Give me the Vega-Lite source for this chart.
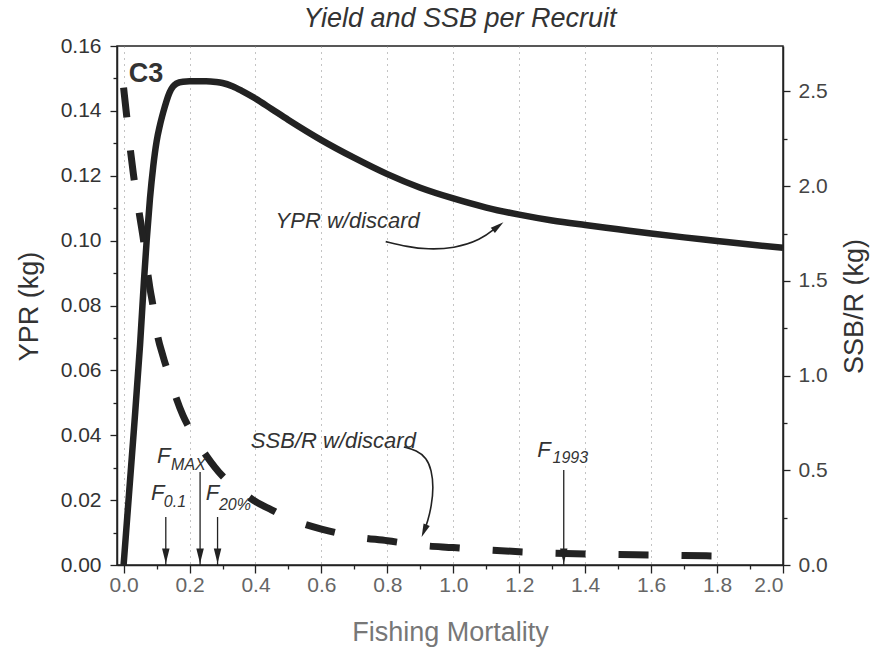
{
  "$schema": "https://vega.github.io/schema/vega-lite/v6.json",
  "width": 666,
  "height": 519,
  "autosize": "none",
  "padding": {"left": 117, "top": 46, "right": 91, "bottom": 86},
  "background": "white",
  "title": {"text": "Yield and SSB per Recruit", "fontSize": 27, "fontStyle": "italic", "fontWeight": "normal", "font": "Liberation Sans", "color": "#333", "anchor": "middle", "frame": "group", "baseline": "alphabetic", "offset": -19, "dx": 10},
  "config": {"view": {"stroke": "#222", "strokeWidth": 1.5}, "font": "Liberation Sans"},
  "datasets": {
    "ypr": [
      {"F": 0, "v": 0}, {"F": 0.03, "v": 0.04}, {"F": 0.05, "v": 0.068}, {"F": 0.062, "v": 0.088},
      {"F": 0.07, "v": 0.1}, {"F": 0.08, "v": 0.113}, {"F": 0.09, "v": 0.123}, {"F": 0.1, "v": 0.1305},
      {"F": 0.11, "v": 0.1355}, {"F": 0.12, "v": 0.1395}, {"F": 0.13, "v": 0.143}, {"F": 0.14, "v": 0.1458},
      {"F": 0.15, "v": 0.1475}, {"F": 0.16, "v": 0.1484}, {"F": 0.18, "v": 0.149}, {"F": 0.2, "v": 0.1491},
      {"F": 0.25, "v": 0.1491}, {"F": 0.28, "v": 0.1489}, {"F": 0.3, "v": 0.1486}, {"F": 0.33, "v": 0.1476},
      {"F": 0.36, "v": 0.1461}, {"F": 0.4, "v": 0.1438}, {"F": 0.45, "v": 0.1405}, {"F": 0.5, "v": 0.1372},
      {"F": 0.6, "v": 0.131}, {"F": 0.7, "v": 0.1255}, {"F": 0.8, "v": 0.1205}, {"F": 0.9, "v": 0.1163},
      {"F": 1.0, "v": 0.113}, {"F": 1.1, "v": 0.1102}, {"F": 1.2, "v": 0.108}, {"F": 1.3, "v": 0.1062},
      {"F": 1.4, "v": 0.1048}, {"F": 1.5, "v": 0.1035}, {"F": 1.6, "v": 0.1022}, {"F": 1.7, "v": 0.101},
      {"F": 1.8, "v": 0.0999}, {"F": 1.9, "v": 0.0988}, {"F": 2.0, "v": 0.0978}
    ],
    "ssb": [
      {"F": 0.0, "s": 2.52}, {"F": 0.01, "s": 2.36}, {"F": 0.02, "s": 2.2}, {"F": 0.03, "s": 2.06},
      {"F": 0.04, "s": 1.94}, {"F": 0.05, "s": 1.83}, {"F": 0.06, "s": 1.72}, {"F": 0.07, "s": 1.58},
      {"F": 0.08, "s": 1.46}, {"F": 0.09, "s": 1.36}, {"F": 0.1, "s": 1.24}, {"F": 0.12, "s": 1.1},
      {"F": 0.14, "s": 0.99}, {"F": 0.16, "s": 0.88}, {"F": 0.18, "s": 0.79}, {"F": 0.2, "s": 0.72},
      {"F": 0.25, "s": 0.58}, {"F": 0.3, "s": 0.47}, {"F": 0.35, "s": 0.4}, {"F": 0.4, "s": 0.335},
      {"F": 0.45, "s": 0.29}, {"F": 0.5, "s": 0.245}, {"F": 0.55, "s": 0.215}, {"F": 0.6, "s": 0.19},
      {"F": 0.7, "s": 0.15}, {"F": 0.8, "s": 0.128}, {"F": 0.9, "s": 0.104}, {"F": 1.0, "s": 0.092},
      {"F": 1.1, "s": 0.08}, {"F": 1.2, "s": 0.07}, {"F": 1.3, "s": 0.063}, {"F": 1.4, "s": 0.058},
      {"F": 1.5, "s": 0.055}, {"F": 1.6, "s": 0.053}, {"F": 1.7, "s": 0.05}, {"F": 1.84, "s": 0.047}
    ],
    "bigF": [
      {"F": 0.101, "v": 0.0315, "t": "F"},
      {"F": 0.083, "v": 0.02, "t": "F"},
      {"F": 0.249, "v": 0.02, "t": "F"},
      {"F": 1.255, "v": 0.0333, "t": "F"}
    ],
    "subs": [
      {"F": 0.144, "v": 0.0293, "t": "MAX"},
      {"F": 0.122, "v": 0.0179, "t": "0.1"},
      {"F": 0.289, "v": 0.017, "t": "20%"},
      {"F": 1.301, "v": 0.0314, "t": "1993"}
    ],
    "notes": [
      {"F": 0.461, "v": 0.1039, "t": "YPR w/discard"},
      {"F": 0.386, "v": 0.0361, "t": "SSB/R w/discard"}
    ],
    "panel": [{"F": 0.016, "v": 0.1489, "t": "C3"}],
    "vArrows": [
      {"F": 0.128, "v": 0.0148, "v2": 0.0},
      {"F": 0.232, "v": 0.0287, "v2": 0.0},
      {"F": 0.285, "v": 0.0148, "v2": 0.0},
      {"F": 1.335, "v": 0.0293, "v2": 0.0}
    ],
    "vHeads": [
      {"F": 0.128, "v": 0.0005}, {"F": 0.232, "v": 0.0005}, {"F": 0.285, "v": 0.0005}, {"F": 1.335, "v": 0.0005}
    ],
    "curves": [
      {"id": "a", "seq": 1, "F": 0.795, "v": 0.0997},
      {"id": "a", "seq": 2, "F": 0.861, "v": 0.0981},
      {"id": "a", "seq": 3, "F": 0.921, "v": 0.0973},
      {"id": "a", "seq": 4, "F": 1.002, "v": 0.0976},
      {"id": "a", "seq": 5, "F": 1.083, "v": 0.1002},
      {"id": "a", "seq": 6, "F": 1.13, "v": 0.104},
      {"id": "b", "seq": 1, "F": 0.85, "v": 0.0364},
      {"id": "b", "seq": 2, "F": 0.889, "v": 0.0354},
      {"id": "b", "seq": 3, "F": 0.919, "v": 0.033},
      {"id": "b", "seq": 4, "F": 0.934, "v": 0.0293},
      {"id": "b", "seq": 5, "F": 0.94, "v": 0.024},
      {"id": "b", "seq": 6, "F": 0.934, "v": 0.0182},
      {"id": "b", "seq": 7, "F": 0.922, "v": 0.0133},
      {"id": "b", "seq": 8, "F": 0.913, "v": 0.0111}
    ],
    "headA": [{"F": 1.152, "v": 0.1057}],
    "headB": [{"F": 0.904, "v": 0.0086}]
  },
  "encoding": {
    "x": {
      "field": "F", "type": "quantitative",
      "scale": {"domain": [-0.02, 2.0], "nice": false, "zero": false},
      "axis": {
        "values": [0, 0.1, 0.2, 0.3, 0.4, 0.5, 0.6, 0.7, 0.8, 0.9, 1.0, 1.1, 1.2, 1.3, 1.4, 1.5, 1.6, 1.7, 1.8, 1.9, 2.0],
        "labelExpr": "round(datum.value*10) % 2 == 0 ? format(datum.value, '.1f') : ''",
        "tickSize": {"condition": {"test": "round(datum.value*10) % 2 != 0", "value": 4}, "value": 8},
        "grid": true,
        "gridDash": [1, 5],
        "gridColor": "#888",
        "gridWidth": 1,
        "gridOpacity": {"condition": {"test": "round(datum.value*10) % 2 != 0", "value": 0}, "value": 1},
        "domainColor": "#222", "domainWidth": 1.5,
        "tickColor": "#222", "tickWidth": 1.3,
        "labelFontSize": 21, "labelColor": "#666", "labelPadding": 1, "labelFont": "Liberation Sans",
        "title": "Fishing Mortality", "titleFontSize": 27, "titleColor": "#777", "titleFontWeight": "normal",
        "titleFont": "Liberation Sans", "titleX": 333, "titleY": 75, "titleBaseline": "alphabetic"
      }
    }
  },
  "layer": [
    {
      "data": {"name": "ypr"},
      "mark": {"type": "line", "color": "#222", "strokeWidth": 6.5, "interpolate": "monotone", "strokeCap": "butt", "strokeJoin": "round"},
      "encoding": {
        "y": {
          "field": "v", "type": "quantitative",
          "scale": {"domain": [0, 0.16], "nice": false},
          "axis": {
            "values": [0, 0.01, 0.02, 0.03, 0.04, 0.05, 0.06, 0.07, 0.08, 0.09, 0.1, 0.11, 0.12, 0.13, 0.14, 0.15, 0.16],
            "labelExpr": "round(datum.value*100) % 2 == 0 ? format(datum.value, '.2f') : ''",
            "tickSize": {"condition": {"test": "round(datum.value*100) % 2 != 0", "value": 4}, "value": 7},
            "grid": false,
            "domainColor": "#222", "domainWidth": 1.5,
            "tickColor": "#222", "tickWidth": 1.3,
            "labelFontSize": 21, "labelColor": "#333", "labelPadding": 9, "labelFont": "Liberation Sans",
            "title": "YPR (kg)", "titleFontSize": 27, "titleColor": "#333", "titleFontWeight": "normal",
            "titleFont": "Liberation Sans", "titleX": -80, "titleY": 260, "titleAngle": 270, "titleBaseline": "alphabetic"
          }
        }
      }
    },
    {
      "data": {"name": "ssb"},
      "mark": {"type": "line", "color": "#222", "strokeWidth": 7, "interpolate": "monotone", "strokeDash": [30, 33], "strokeCap": "butt"},
      "encoding": {
        "y": {
          "field": "s", "type": "quantitative",
          "scale": {"domain": [0, 2.74], "nice": false},
          "axis": {
            "orient": "right",
            "values": [0, 0.25, 0.5, 0.75, 1.0, 1.25, 1.5, 1.75, 2.0, 2.25, 2.5],
            "labelExpr": "round(datum.value*4) % 2 == 0 ? format(datum.value, '.1f') : ''",
            "tickSize": {"condition": {"test": "round(datum.value*4) % 2 != 0", "value": 4}, "value": 7},
            "grid": false,
            "domainColor": "#222", "domainWidth": 1.5,
            "tickColor": "#222", "tickWidth": 1.3,
            "labelFontSize": 21, "labelColor": "#444", "labelPadding": 8, "labelFont": "Liberation Sans",
            "title": "SSB/R (kg)", "titleFontSize": 27, "titleColor": "#333", "titleFontWeight": "normal",
            "titleFont": "Liberation Sans", "titleX": 79, "titleY": 260, "titleAngle": 270, "titleBaseline": "alphabetic"
          }
        }
      }
    },
    {
      "data": {"name": "vArrows"},
      "mark": {"type": "rule", "color": "#222", "strokeWidth": 1.3},
      "encoding": {
        "y": {"field": "v", "type": "quantitative", "scale": {"domain": [0, 0.16], "nice": false}, "axis": null},
        "y2": {"field": "v2"}
      }
    },
    {
      "data": {"name": "vHeads"},
      "mark": {"type": "point", "shape": "M -0.5 -2 L 0.5 -2 L 0 0 Z", "size": 225, "filled": true, "color": "#222", "opacity": 1, "strokeWidth": 0},
      "encoding": {
        "y": {"field": "v", "type": "quantitative", "scale": {"domain": [0, 0.16], "nice": false}, "axis": null}
      }
    },
    {
      "data": {"name": "curves"},
      "mark": {"type": "line", "color": "#222", "strokeWidth": 1.6, "interpolate": "basis"},
      "encoding": {
        "y": {"field": "v", "type": "quantitative", "scale": {"domain": [0, 0.16], "nice": false}, "axis": null},
        "detail": {"field": "id"},
        "order": {"field": "seq", "type": "quantitative"}
      }
    },
    {
      "data": {"name": "headA"},
      "mark": {"type": "point", "shape": "M -0.5 -2 L 0.5 -2 L 0 0 Z", "size": 180, "filled": true, "color": "#222", "opacity": 1, "strokeWidth": 0, "angle": 232},
      "encoding": {
        "y": {"field": "v", "type": "quantitative", "scale": {"domain": [0, 0.16], "nice": false}, "axis": null}
      }
    },
    {
      "data": {"name": "headB"},
      "mark": {"type": "point", "shape": "M -0.5 -2 L 0.5 -2 L 0 0 Z", "size": 180, "filled": true, "color": "#222", "opacity": 1, "strokeWidth": 0, "angle": 22},
      "encoding": {
        "y": {"field": "v", "type": "quantitative", "scale": {"domain": [0, 0.16], "nice": false}, "axis": null}
      }
    },
    {
      "data": {"name": "bigF"},
      "mark": {"type": "text", "font": "Liberation Sans", "fontSize": 22, "fontStyle": "italic", "color": "#333", "align": "left", "baseline": "alphabetic"},
      "encoding": {
        "y": {"field": "v", "type": "quantitative", "scale": {"domain": [0, 0.16], "nice": false}, "axis": null},
        "text": {"field": "t"}
      }
    },
    {
      "data": {"name": "subs"},
      "mark": {"type": "text", "font": "Liberation Sans", "fontSize": 16, "fontStyle": "italic", "color": "#333", "align": "left", "baseline": "alphabetic"},
      "encoding": {
        "y": {"field": "v", "type": "quantitative", "scale": {"domain": [0, 0.16], "nice": false}, "axis": null},
        "text": {"field": "t"}
      }
    },
    {
      "data": {"name": "notes"},
      "mark": {"type": "text", "font": "Liberation Sans", "fontSize": 22, "fontStyle": "italic", "color": "#333", "align": "left", "baseline": "alphabetic"},
      "encoding": {
        "y": {"field": "v", "type": "quantitative", "scale": {"domain": [0, 0.16], "nice": false}, "axis": null},
        "text": {"field": "t"}
      }
    },
    {
      "data": {"name": "panel"},
      "mark": {"type": "text", "font": "Liberation Sans", "fontSize": 27, "fontWeight": "bold", "color": "#333", "align": "left", "baseline": "alphabetic"},
      "encoding": {
        "y": {"field": "v", "type": "quantitative", "scale": {"domain": [0, 0.16], "nice": false}, "axis": null},
        "text": {"field": "t"}
      }
    }
  ],
  "resolve": {"scale": {"y": "independent"}, "axis": {"y": "independent"}}
}
